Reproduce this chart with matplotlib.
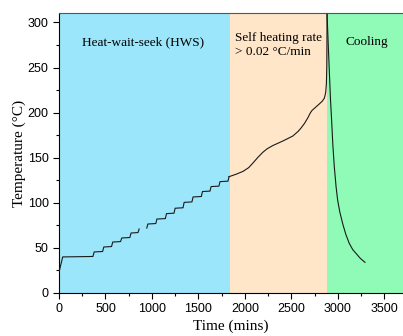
import numpy as np
import matplotlib.pyplot as plt
from matplotlib.ticker import MultipleLocator

# heat-wait-seek, first run (before the gap)
hws1_time = [0, 40, 365, 378, 469, 482, 565, 578, 662, 675, 762, 775, 850, 862]
hws1_temp = [23, 40, 40.5, 45.5, 46, 51, 51.5, 56.5, 57, 61, 61.5, 66.5, 67, 71]

# heat-wait-seek, second run (after the gap)
hws2_time = [944, 956, 1041, 1053, 1144, 1156, 1237, 1249, 1334, 1346, 1430, 1442,
             1531, 1543, 1624, 1636, 1720, 1732, 1817, 1829]
hws2_temp = [72, 76.5, 77, 82, 82.5, 88, 88.5, 94, 94.5, 100.5, 101, 106.5,
             107, 112.5, 113, 118, 118.5, 123.5, 124, 129]

# self heating
sh_time = [1829, 1900, 1978, 2040, 2085, 2140, 2192, 2240, 2300, 2407, 2514,
           2570, 2604, 2640, 2675, 2705, 2722, 2760, 2793, 2830, 2854, 2868,
           2876, 2880, 2882, 2883]
sh_temp = [129, 131.5, 134.8, 139, 144, 150.5, 156, 160, 163.5, 168.5, 174,
           179, 183, 188, 194, 200, 202.5, 206, 209, 212.5, 216, 222,
           232, 250, 280, 309]

# cooling
cool_time = [2883, 2900, 2920, 2932, 2945, 2961, 2980, 2997, 3020, 3051, 3085,
             3122, 3160, 3194, 3240, 3291]
cool_temp = [309, 265, 215, 192, 165, 140, 118, 103, 90, 77, 65,
             55, 48, 44, 38.5, 34]

# stage boundaries (mins)
stages = [(0, 1835, "#9be6fa"), (1835, 2886, "#ffe6c8"), (2886, 3700, "#8ffbb6")]

serif = "Liberation Serif"
sans = "Liberation Sans"

fig = plt.figure(figsize=(4.03, 3.36), dpi=100)
ax = fig.add_axes([0.1464, 0.128, 0.8536, 0.832])

for x0, x1, c in stages:
    ax.axvspan(x0, x1, color=c, lw=0, zorder=0)

line_kw = dict(color="#1a1a1a", lw=0.8, zorder=3)
ax.plot(hws1_time, hws1_temp, **line_kw)
ax.plot(hws2_time, hws2_temp, **line_kw)
ax.plot(sh_time, sh_temp, **line_kw)
ax.plot(cool_time, cool_temp, **line_kw)

ax.set_xlim(0, 3700)
ax.set_ylim(0, 310)
ax.xaxis.set_major_locator(MultipleLocator(500))
ax.xaxis.set_minor_locator(MultipleLocator(250))
ax.yaxis.set_major_locator(MultipleLocator(50))
ax.yaxis.set_minor_locator(MultipleLocator(25))
ax.tick_params(which="major", direction="out", length=4, width=0.8, labelsize=9)
ax.tick_params(which="minor", direction="out", length=2.5, width=0.8)
for lab in ax.get_xticklabels() + ax.get_yticklabels():
    lab.set_fontfamily(sans)

ax.spines["right"].set_visible(False)
ax.spines["top"].set_color("#555555")

ax.set_xlabel("Time (mins)", fontfamily=serif, fontsize=11, labelpad=3)
ax.set_ylabel("Temperature (\u00b0C)", fontfamily=serif, fontsize=11, labelpad=1)

ax.text(247, 278, "Heat-wait-seek (HWS)", fontfamily=serif, fontsize=9.5,
        va="center", ha="left")
ax.text(1896, 283, "Self heating rate", fontfamily=serif, fontsize=9.5,
        va="center", ha="left")
ax.text(1896, 267, "> 0.02 \u00b0C/min", fontfamily=serif, fontsize=9.5,
        va="center", ha="left")
ax.text(3315, 278, "Cooling", fontfamily=serif, fontsize=9.5,
        va="center", ha="center")

fig.savefig("out.png", dpi=100)
